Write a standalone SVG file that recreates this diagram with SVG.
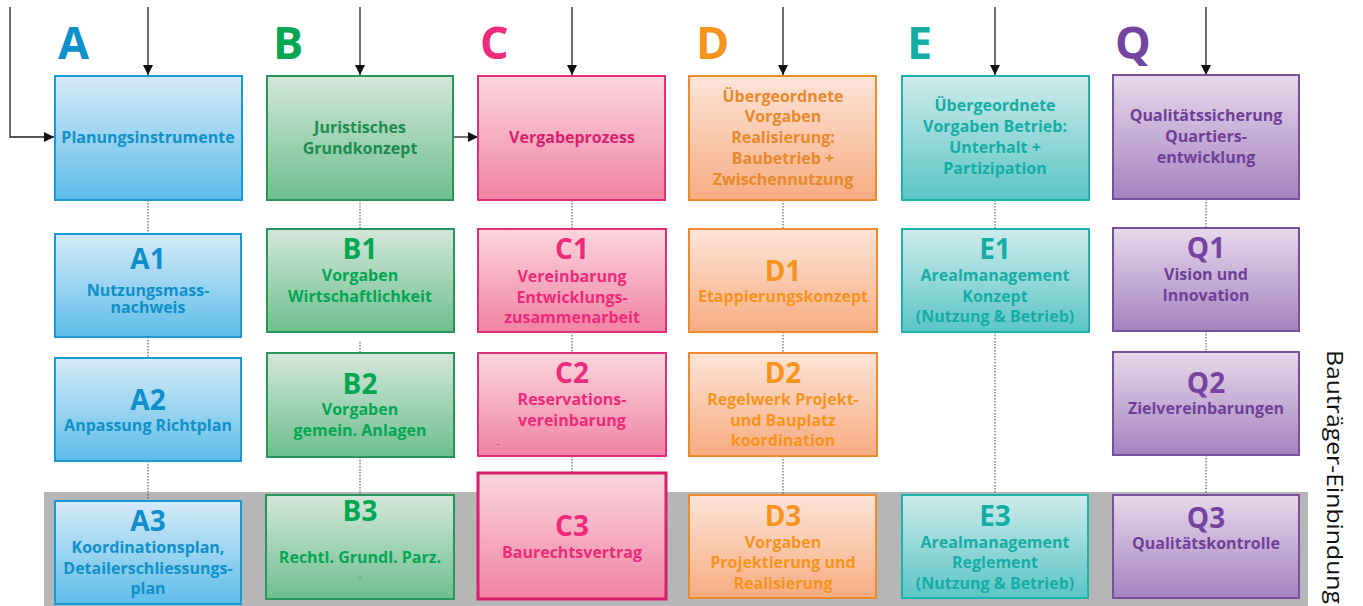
<svg xmlns="http://www.w3.org/2000/svg" width="1363" height="606" viewBox="0 0 1363 606">
<defs>
<linearGradient id="gA" x1="0" y1="0" x2="0" y2="1"><stop offset="0" stop-color="#d6ebf8"/><stop offset="1" stop-color="#5dbde9"/></linearGradient>
<linearGradient id="gB" x1="0" y1="0" x2="0" y2="1"><stop offset="0" stop-color="#d4e7da"/><stop offset="1" stop-color="#6dbf8e"/></linearGradient>
<linearGradient id="gC" x1="0" y1="0" x2="0" y2="1"><stop offset="0" stop-color="#fbd6de"/><stop offset="1" stop-color="#f083a3"/></linearGradient>
<linearGradient id="gD" x1="0" y1="0" x2="0" y2="1"><stop offset="0" stop-color="#fde4d8"/><stop offset="1" stop-color="#f6ac80"/></linearGradient>
<linearGradient id="gE" x1="0" y1="0" x2="0" y2="1"><stop offset="0" stop-color="#cfebeb"/><stop offset="1" stop-color="#5bc5c5"/></linearGradient>
<linearGradient id="gQ" x1="0" y1="0" x2="0" y2="1"><stop offset="0" stop-color="#e8d8eb"/><stop offset="1" stop-color="#a383bf"/></linearGradient>
<marker id="ah" viewBox="0 0 10 10" refX="10" refY="5" markerWidth="10" markerHeight="10" markerUnits="userSpaceOnUse" orient="auto"><path d="M0,0 L10,5 L0,10 z" fill="#111"/></marker>
</defs>
<style>
text{font-family:"Open Sans","Noto Sans","Liberation Sans",sans-serif;font-weight:700;text-anchor:middle;dominant-baseline:central}
.big{font-size:45px;text-anchor:start;dominant-baseline:auto}
.code{font-size:28px}
.t{font-size:16px}
.dash{font-size:9px;font-weight:400}
.bA{fill:url(#gA);stroke:#1b99d4;stroke-width:2}
.bB{fill:url(#gB);stroke:#2a955a;stroke-width:2}
.bC{fill:url(#gC);stroke:#e0307a;stroke-width:2}
.bC3{fill:url(#gC);stroke:#d81f6d;stroke-width:3}
.bD{fill:url(#gD);stroke:#ee8a2e;stroke-width:2}
.bE{fill:url(#gE);stroke:#1bb1ad;stroke-width:2}
.bQ{fill:url(#gQ);stroke:#7a4fa0;stroke-width:2}
.cA{fill:#0d8fcc}.cA2{fill:#1090c8}
.cB{fill:#00a651}.cB2{fill:#1d8c4c}
.cC{fill:#ee2a7b}.cC2{fill:#d91f6e}
.cD{fill:#f7941d}.cD2{fill:#e8892b}
.cE{fill:#14ada6}
.cQ{fill:#7445a0}.cQ2{fill:#6f3f98}
.dot{stroke:#444;stroke-width:1;stroke-dasharray:1.5 1.5;fill:none}
.arr{stroke:#222;stroke-width:1.3;fill:none;marker-end:url(#ah)}
.side{font-size:22px;font-weight:400;text-anchor:start;dominant-baseline:auto;fill:#111}
</style>
<rect x="44" y="492" width="1264" height="114" fill="#b5b6b8"/>
<g id="connectors">
<path class="arr" d="M10,7 V137 H54"/>
<path class="arr" d="M148,7 V75"/>
<path class="arr" d="M360,7 V75"/>
<path class="arr" d="M572,7 V75"/>
<path class="arr" d="M783,7 V75"/>
<path class="arr" d="M995,7 V75"/>
<path class="arr" d="M1206,7 V75"/>
<path class="arr" d="M453,137 H478"/>
<path class="dot" d="M148,200 V233 M148,337 V357 M148,461 V500"/>
<path class="dot" d="M360,200 V229 M360,342 V352 M360,457 V495"/>
<path class="dot" d="M572,200 V229 M572,332 V353 M572,456 V472"/>
<path class="dot" d="M783,200 V229 M783,332 V353 M783,456 V495"/>
<path class="dot" d="M995,200 V228 M995,332 V494"/>
<path class="dot" d="M1206,199 V228 M1206,331 V352 M1206,455 V495"/>
</g>
<text class="big cA" x="58" y="59">A</text>
<text class="big cB" x="273" y="59">B</text>
<text class="big cC" x="480" y="59">C</text>
<text class="big cD" x="696" y="59">D</text>
<text class="big cE" x="907" y="59">E</text>
<text class="big cQ" x="1115" y="59">Q</text>
<g id="A0"><rect class="bA" x="55" y="76" width="187" height="124"/><text class="t cA2" x="148" y="137">Planungsinstrumente</text></g>
<g id="A1"><rect class="bA" x="55" y="234" width="186" height="103"/><text class="code cA" x="148" y="258">A1</text><text class="t cA2" x="148" y="290">Nutzungsmass-</text><text class="t cA2" x="148" y="307">nachweis</text></g>
<g id="A2"><rect class="bA" x="55" y="358" width="186" height="103"/><text class="code cA" x="148" y="399">A2</text><text class="t cA2" x="148" y="425">Anpassung Richtplan</text></g>
<g id="A3"><rect class="bA" x="55" y="501" width="186" height="103"/><text class="code cA" x="148" y="520">A3</text><text class="t cA2" x="148" y="547">Koordinationsplan,</text><text class="t cA2" x="148" y="568">Detailerschliessungs-</text><text class="t cA2" x="148" y="588">plan</text></g>
<g id="B0"><rect class="bB" x="267" y="76" width="186" height="124"/><text class="t cB2" x="360" y="127">Juristisches</text><text class="t cB2" x="360" y="148">Grundkonzept</text></g>
<g id="B1"><rect class="bB" x="267" y="229" width="187" height="103"/><text class="code cB" x="360" y="248">B1</text><text class="t cB" x="360" y="275">Vorgaben</text><text class="t cB" x="360" y="296">Wirtschaftlichkeit</text></g>
<g id="B2"><rect class="bB" x="267" y="353" width="187" height="104"/><text class="code cB" x="360" y="383">B2</text><text class="t cB" x="360" y="409">Vorgaben</text><text class="t cB" x="360" y="430">gemein. Anlagen</text></g>
<g id="B3"><rect class="bB" x="266" y="495" width="188" height="104"/><text class="code cB" x="360" y="510">B3</text><text class="t cB" x="360" y="557">Rechtl. Grundl. Parz.</text><text class="dash cB" x="360" y="576">-</text></g>
<g id="C0"><rect class="bC" x="478" y="76" width="187" height="124"/><text class="t cC2" x="572" y="137">Vergabeprozess</text></g>
<g id="C1"><rect class="bC" x="478" y="229" width="188" height="103"/><text class="code cC" x="572" y="248">C1</text><text class="t cC" x="572" y="276">Vereinbarung</text><text class="t cC" x="572" y="297">Entwicklungs-</text><text class="t cC" x="572" y="317">zusammenarbeit</text></g>
<g id="C2"><rect class="bC" x="478" y="353" width="188" height="103"/><text class="code cC" x="572" y="372">C2</text><text class="t cC" x="572" y="399">Reservations-</text><text class="t cC" x="572" y="420">vereinbarung</text><text class="dash cC2" x="498" y="443">-</text></g>
<g id="C3"><rect class="bC3" x="478" y="473" width="188" height="126"/><text class="code cC" x="572" y="525">C3</text><text class="t cC" x="572" y="552">Baurechtsvertrag</text></g>
<g id="D0"><rect class="bD" x="689" y="76" width="187" height="124"/><text class="t cD2" x="783" y="96">Übergeordnete</text><text class="t cD2" x="783" y="116">Vorgaben</text><text class="t cD2" x="783" y="137">Realisierung:</text><text class="t cD2" x="783" y="158">Baubetrieb +</text><text class="t cD2" x="783" y="179">Zwischennutzung</text></g>
<g id="D1"><rect class="bD" x="689" y="229" width="188" height="103"/><text class="code cD" x="783" y="270">D1</text><text class="t cD" x="783" y="296">Etappierungskonzept</text></g>
<g id="D2"><rect class="bD" x="689" y="353" width="188" height="103"/><text class="code cD" x="783" y="372">D2</text><text class="t cD" x="783" y="399">Regelwerk Projekt-</text><text class="t cD" x="783" y="420">und Bauplatz</text><text class="t cD" x="783" y="440">koordination</text></g>
<g id="D3"><rect class="bD" x="689" y="495" width="187" height="103"/><text class="code cD" x="783" y="515">D3</text><text class="t cD" x="783" y="542">Vorgaben</text><text class="t cD" x="783" y="562">Projektierung und</text><text class="t cD" x="783" y="583">Realisierung</text></g>
<g id="E0"><rect class="bE" x="902" y="76" width="187" height="124"/><text class="t cE" x="995" y="105">Übergeordnete</text><text class="t cE" x="995" y="126">Vorgaben Betrieb:</text><text class="t cE" x="995" y="147">Unterhalt +</text><text class="t cE" x="995" y="168">Partizipation</text></g>
<g id="E1"><rect class="bE" x="902" y="229" width="187" height="103"/><text class="code cE" x="995" y="248">E1</text><text class="t cE" x="995" y="275">Arealmanagement</text><text class="t cE" x="995" y="296">Konzept</text><text class="t cE" x="995" y="316">(Nutzung &amp; Betrieb)</text></g>
<g id="E3"><rect class="bE" x="902" y="495" width="186" height="103"/><text class="code cE" x="995" y="515">E3</text><text class="t cE" x="995" y="542">Arealmanagement</text><text class="t cE" x="995" y="562">Reglement</text><text class="t cE" x="995" y="583">(Nutzung &amp; Betrieb)</text></g>
<g id="Q0"><rect class="bQ" x="1113" y="75" width="186" height="124"/><text class="t cQ2" x="1206" y="115">Qualitätssicherung</text><text class="t cQ2" x="1206" y="136">Quartiers-</text><text class="t cQ2" x="1206" y="157">entwicklung</text></g>
<g id="Q1"><rect class="bQ" x="1113" y="228" width="186" height="103"/><text class="code cQ" x="1206" y="247">Q1</text><text class="t cQ2" x="1206" y="274">Vision und</text><text class="t cQ2" x="1206" y="295">Innovation</text></g>
<g id="Q2"><rect class="bQ" x="1113" y="352" width="186" height="103"/><text class="code cQ" x="1206" y="382">Q2</text><text class="t cQ2" x="1206" y="408">Zielvereinbarungen</text></g>
<g id="Q3"><rect class="bQ" x="1113" y="495" width="186" height="103"/><text class="code cQ" x="1206" y="517">Q3</text><text class="t cQ2" x="1206" y="543">Qualitätskontrolle</text></g>
<text class="side" transform="translate(1327,350) rotate(90)" textLength="254" lengthAdjust="spacingAndGlyphs">Bauträger-Einbindung</text>
</svg>
